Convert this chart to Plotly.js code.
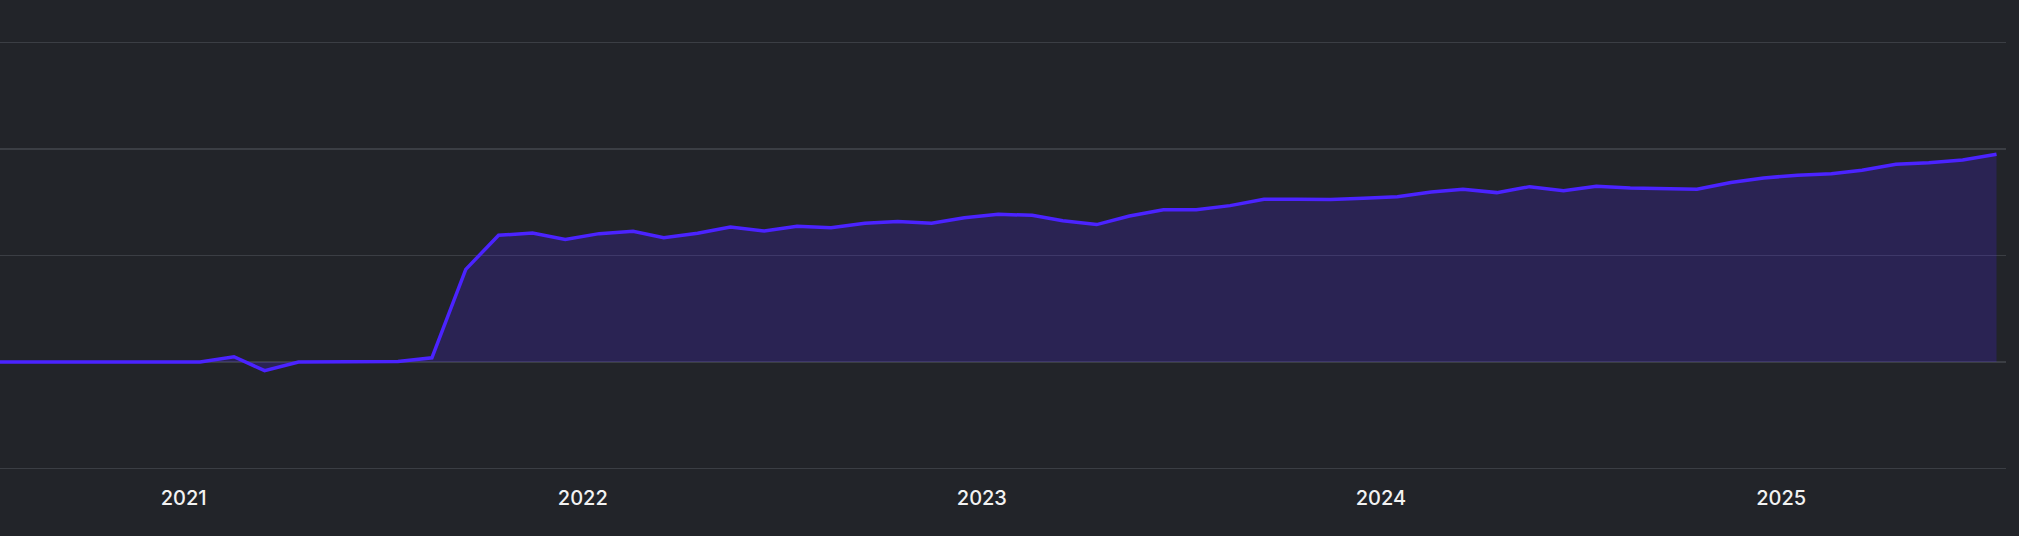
<!DOCTYPE html>
<html>
<head>
<meta charset="utf-8">
<script src="https://cdn.plot.ly/plotly-3.0.1.min.js"></script>
<style>
  html, body { margin: 0; padding: 0; background: #222429; }
  #chart { width: 2019px; height: 536px; }
</style>
</head>
<body>
<div id="chart"></div>
<script>
// Monthly dates (mid-month)
const dates = [
  "2020-07-16","2020-08-16","2020-09-16","2020-10-16","2020-11-16","2020-12-16",
  "2021-01-16","2021-02-16","2021-03-16","2021-04-16","2021-05-16","2021-06-16",
  "2021-07-16","2021-08-16","2021-09-16","2021-10-16","2021-11-16","2021-12-16",
  "2022-01-16","2022-02-16","2022-03-16","2022-04-16","2022-05-16","2022-06-16",
  "2022-07-16","2022-08-16","2022-09-16","2022-10-16","2022-11-16","2022-12-16",
  "2023-01-16","2023-02-16","2023-03-16","2023-04-16","2023-05-16","2023-06-16",
  "2023-07-16","2023-08-16","2023-09-16","2023-10-16","2023-11-16","2023-12-16",
  "2024-01-16","2024-02-16","2024-03-16","2024-04-16","2024-05-16","2024-06-16",
  "2024-07-16","2024-08-16","2024-09-16","2024-10-16","2024-11-16","2024-12-16",
  "2025-01-16","2025-02-16","2025-03-16","2025-04-16","2025-05-16","2025-06-16",
  "2025-07-17"
];

// Series values (relative units; gridline step = 100)
const values = [
  0, 0, 0, 0, 0, 0,
  0, 5, -8, 0, 0, 0.2,
  0.5, 4, 87, 119, 121, 115,
  120.5, 122.7, 116.7, 120.8, 126.8, 123,
  127.4, 126.1, 130.2, 131.8, 130.2, 135.5,
  138.6, 137.7, 132.7, 129, 137.1, 143,
  143, 146.8, 152.7, 152.7, 152.5, 153.8,
  155.2, 159.6, 162.2, 159, 164.6, 160.8,
  165, 163.4, 163.1, 162.2, 168.4, 172.8,
  175.3, 176.8, 180, 185.6, 187.1, 189.7,
  195
];

// X tick labels
const tickDates = ["2021-01-01", "2022-01-01", "2023-01-01", "2024-01-01", "2025-01-01"];
const tickLabels = ["2021", "2022", "2023", "2024", "2025"];

const trace = {
  x: dates,
  y: values,
  type: "scatter",
  mode: "lines",
  line: { color: "#4b23ff", width: 3.5, shape: "linear" },
  fill: "tozeroy",
  fillcolor: "rgba(74,34,255,0.2)",
  hoverinfo: "skip"
};

const layout = {
  width: 2019,
  height: 536,
  margin: { l: 0, r: 13, t: 37, b: 62, pad: 0 },
  paper_bgcolor: "#222429",
  plot_bgcolor: "#222429",
  showlegend: false,
  font: { family: "Inter, 'Noto Sans', sans-serif", color: "#f2f2f2", size: 20 },
  xaxis: {
    type: "date",
    range: ["2020-07-17", "2025-07-25 16:00"],
    tickmode: "array",
    tickvals: tickDates,
    ticktext: tickLabels,
    showgrid: false,
    zeroline: false,
    showline: false,
    ticks: "outside",
    ticklen: 6,
    tickcolor: "rgba(0,0,0,0)",
    tickfont: { family: "Inter, 'Noto Sans', sans-serif", size: 20, color: "#f2f2f2", weight: 500 },
    fixedrange: true
  },
  yaxis: {
    range: [-105, 305],
    tickmode: "linear",
    tick0: 0,
    dtick: 100,
    showticklabels: false,
    showgrid: true,
    gridcolor: "#3b3e44",
    gridwidth: 1.5,
    zeroline: false,
    showline: false,
    ticks: "",
    fixedrange: true
  }
};

Plotly.newPlot("chart", [trace], layout, { displayModeBar: false, staticPlot: true });
</script>
</body>
</html>
